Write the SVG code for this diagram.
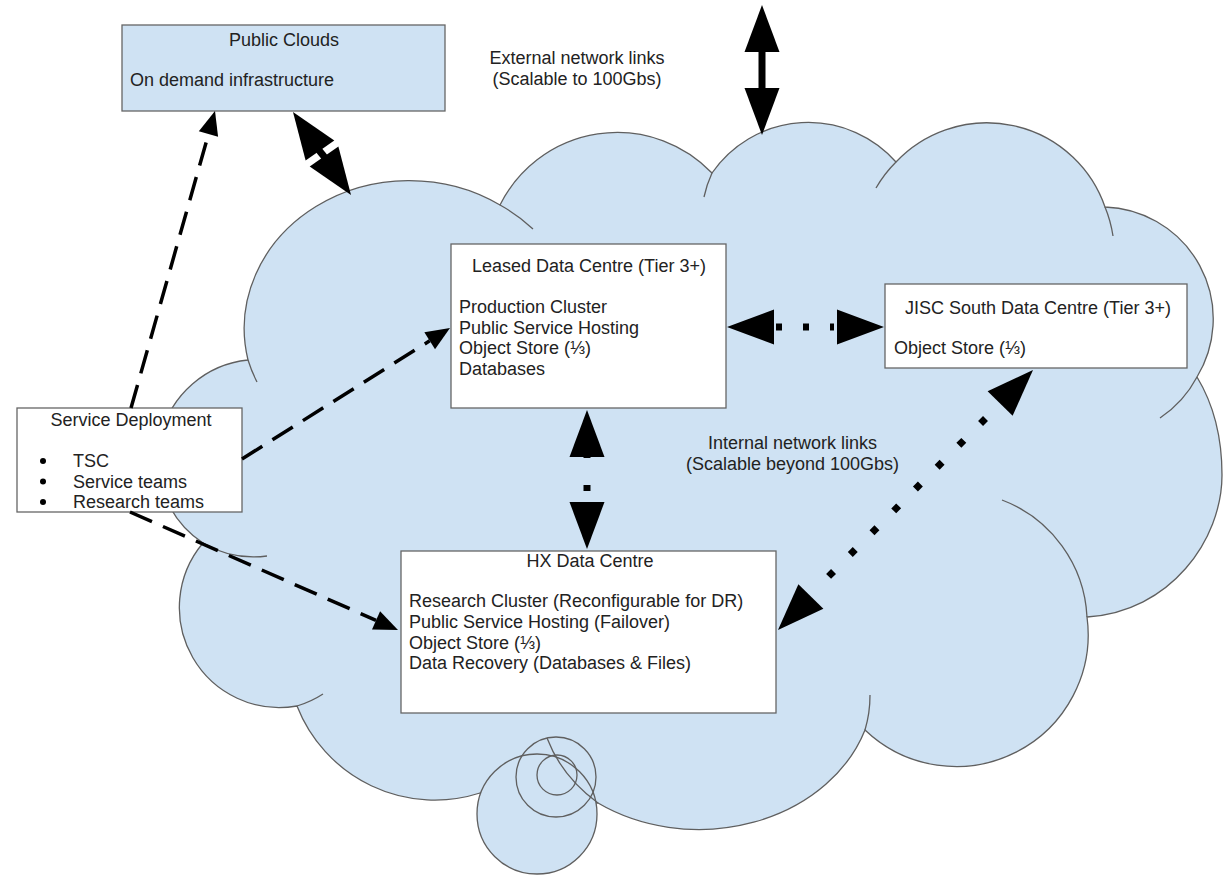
<svg xmlns="http://www.w3.org/2000/svg" xmlns:xlink="http://www.w3.org/1999/xlink" width="1228" height="876" viewBox="0 0 1228 876">
<style>
.cloud{fill:#cfe2f3;stroke:#5f5f5f;stroke-width:1.3}
.tail{fill:none;stroke:#5f5f5f;stroke-width:1.3}
.ring{fill:none;stroke:#5f5f5f;stroke-width:1.3}
.box{fill:#ffffff;stroke:#666666;stroke-width:1.3}
.boxb{fill:#cfe2f3;stroke:#666666;stroke-width:1.3}
text{font-family:"Liberation Sans",Arial,"DejaVu Sans",sans-serif;font-size:18px;fill:#222222}
.c{text-anchor:middle}
.dash{fill:none;stroke:#000;stroke-width:3.5;stroke-dasharray:24 12}
.dot{fill:none;stroke:#000;stroke-width:7}
.shaft{fill:none;stroke:#000;stroke-width:7}
.hd{fill:#000}
</style>
<defs>
<path id="head" d="M0,0 L-47,-17.5 L-47,17.5 Z"/>
<path id="dhead" d="M0,0 L-24,-10 L-24,10 Z"/>
</defs>
<rect width="1228" height="876" fill="#ffffff"/>
<g id="cloud">
<path class="cloud" d="M248,360 A165,148 0 0 1 500,205 A131,131 0 0 1 712,173 A117,117 0 0 1 896,162 A125,125 0 0 1 1105,207 A112,112 0 0 1 1197,377 C1214,405 1222,440 1222,475 C1222,540 1170,612 1087,617 A132,132 0 0 1 865,730 A175,145 0 0 1 598,803 L480,793 A148,148 0 0 1 297,706 A100,100 0 0 1 203,543 A100,100 0 0 1 248,360 Z"/>
<circle class="cloud" cx="537" cy="814" r="60"/>
<path class="tail" d="M248,360 A165,148 0 0 0 257,382"/>
<path class="tail" d="M203,543 A100,100 0 0 0 267,556"/>
<path class="tail" d="M297,706 A100,100 0 0 0 323,694"/>
<path class="tail" d="M500,205 A165,148 0 0 1 533,229"/>
<path class="tail" d="M712,173 A117,117 0 0 0 704,197"/>
<path class="tail" d="M896,162 A125,125 0 0 0 876,188"/>
<path class="tail" d="M1105,207 A125,125 0 0 1 1113,236"/>
<path class="tail" d="M1197,377 A112,112 0 0 1 1160,418"/>
<path class="tail" d="M1087,617 A132,132 0 0 0 1002,500"/>
<path class="tail" d="M865,730 A175,145 0 0 0 870,695"/>
<path class="tail" d="M598,803 A175,145 0 0 1 547,738"/>
<circle class="ring" cx="556" cy="777" r="40"/>
<circle class="ring" cx="557" cy="775" r="20"/>
</g>
<g id="public-clouds">
<rect class="boxb" x="122" y="25" width="323" height="86"/>
<text class="c" x="284" y="46">Public Clouds</text>
<text x="130" y="86">On demand infrastructure</text>
</g>
<g id="external-label">
<text class="c" x="577" y="64">External network links</text>
<text class="c" x="577" y="85">(Scalable to 100Gbs)</text>
</g>
<g id="leased">
<rect class="box" x="451" y="244" width="275" height="164"/>
<text class="c" x="589" y="272">Leased Data Centre (Tier 3+)</text>
<text x="459" y="313">Production Cluster</text>
<text x="459" y="333.5">Public Service Hosting</text>
<text x="459" y="354">Object Store (⅓)</text>
<text x="459" y="374.5">Databases</text>
</g>
<g id="jisc">
<rect class="box" x="885" y="284" width="302" height="84"/>
<text class="c" x="1038" y="314">JISC South Data Centre (Tier 3+)</text>
<text x="894" y="354">Object Store (⅓)</text>
</g>
<g id="service-deployment">
<rect class="box" x="17" y="408" width="225" height="104"/>
<text class="c" x="131" y="426">Service Deployment</text>
<circle cx="43" cy="461" r="3"/>
<circle cx="43" cy="481.5" r="3"/>
<circle cx="43" cy="502" r="3"/>
<text x="73" y="467">TSC</text>
<text x="73" y="487.5">Service teams</text>
<text x="73" y="508">Research teams</text>
</g>
<g id="hx">
<rect class="box" x="401" y="551" width="375" height="162"/>
<text class="c" x="590" y="567">HX Data Centre</text>
<text x="409" y="607">Research Cluster (Reconfigurable for DR)</text>
<text x="409" y="628">Public Service Hosting (Failover)</text>
<text x="409" y="648.5">Object Store (⅓)</text>
<text x="409" y="669">Data Recovery (Databases &amp; Files)</text>
</g>
<g id="internal-label">
<text class="c" x="792.5" y="448.5">Internal network links</text>
<text class="c" x="792.5" y="469.5">(Scalable beyond 100Gbs)</text>
</g>
<g id="connectors">
<path class="dash" d="M131,408 L208.5,134"/>
<use xlink:href="#dhead" class="hd" transform="translate(215,111) rotate(-74.2)"/>
<path class="dash" d="M242,459 L429.7,340.8"/>
<use xlink:href="#dhead" class="hd" transform="translate(450,328) rotate(-32.2)"/>
<path class="dash" d="M130,512 L376,620.3"/>
<use xlink:href="#dhead" class="hd" transform="translate(398,630) rotate(23.8)"/>
<path class="dot" stroke-dasharray="6 21" d="M776,327 L834,327"/>
<use xlink:href="#head" class="hd" transform="translate(727,327) rotate(180)"/>
<use xlink:href="#head" class="hd" transform="translate(884,327)"/>
<path class="dot" stroke-dasharray="6 27" d="M587,452 L587,502"/>
<use xlink:href="#head" class="hd" transform="translate(587,410) rotate(-90)"/>
<use xlink:href="#head" class="hd" transform="translate(587,549) rotate(90)"/>
<path class="dot" stroke-dasharray="7 23.8" d="M985.5,418.5 L828.5,576.5"/>
<use xlink:href="#head" class="hd" transform="translate(1033,370) rotate(-45.6)"/>
<use xlink:href="#head" class="hd" transform="translate(778,630) rotate(134.4)"/>
<path class="shaft" d="M762,50 L762,90"/>
<use xlink:href="#head" class="hd" transform="translate(762,5) rotate(-90)"/>
<use xlink:href="#head" class="hd" transform="translate(762,135) rotate(90)"/>
<path class="shaft" d="M318,149 L326,159"/>
<use xlink:href="#head" class="hd" transform="translate(293,112) rotate(-125)"/>
<use xlink:href="#head" class="hd" transform="translate(351,195) rotate(55)"/>
</g>
</svg>
